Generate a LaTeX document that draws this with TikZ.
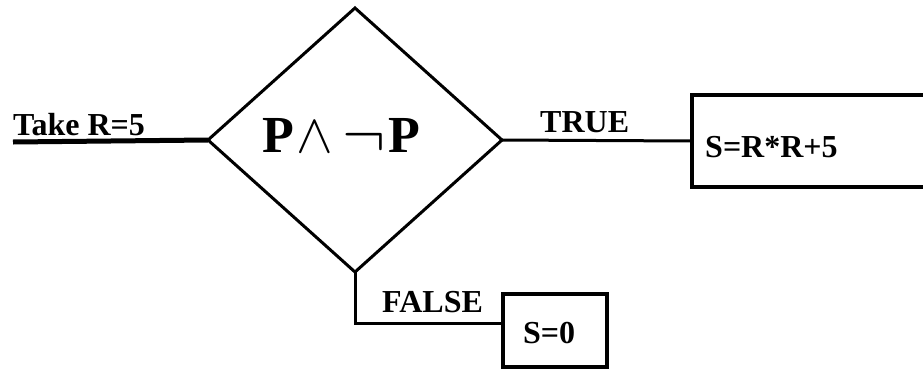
\RequirePackage{fix-cm}
\documentclass[tikz,border=0pt]{standalone}
\usepackage{fontspec}
\setmainfont{Liberation Serif}
\usetikzlibrary{shapes.geometric}
\begin{document}
\begin{tikzpicture}[x=1pt,y=-1pt,
  line join=miter,
  lbl/.style={font=\fontsize{32}{32}\selectfont\bfseries, inner sep=0pt, anchor=base west},
  boxnode/.style={draw, line width=3.5pt, rectangle, inner sep=0pt, outer sep=0pt},
  conn/.style={line width=3pt}]
\useasboundingbox (0,0) rectangle (923,370);
\coordinate (start) at (13,142);
\node[draw, diamond, line width=3pt, minimum width=294pt, minimum height=264pt, inner sep=0pt, outer sep=0pt] (d) at (355,140) {};
\node[inner sep=0pt, anchor=base west, font=\fontsize{52}{52}\selectfont\bfseries] (f) at (262,152) {P\hspace{3pt}{\fontsize{55}{55}\selectfont$\wedge$}\hspace{9pt}\raisebox{-4pt}{\fontsize{65}{65}\selectfont$\neg$}\hspace{3pt}P};
\node[boxnode, minimum width=268pt, minimum height=92pt] (b1) at (826,141) {};
\node[boxnode, minimum width=104pt, minimum height=73pt] (b2) at (555,330.5) {};
\node[lbl] (tk) at (13,135) {Take R=5};
\node[lbl] (tr) at (540,132) {TRUE};
\node[lbl] (fl) at (382,312) {FALSE};
\node[lbl] (t1) at (705,157) {S=R*R+5};
\node[lbl] (t2) at (523,343) {S=0};
\draw[line width=5pt] (start) -- (d.west);
\draw[conn] (d.east) -- (b1.west);
\draw[conn] (d.south) |- ([yshift=7.5pt]b2.west);
\end{tikzpicture}
\end{document}
